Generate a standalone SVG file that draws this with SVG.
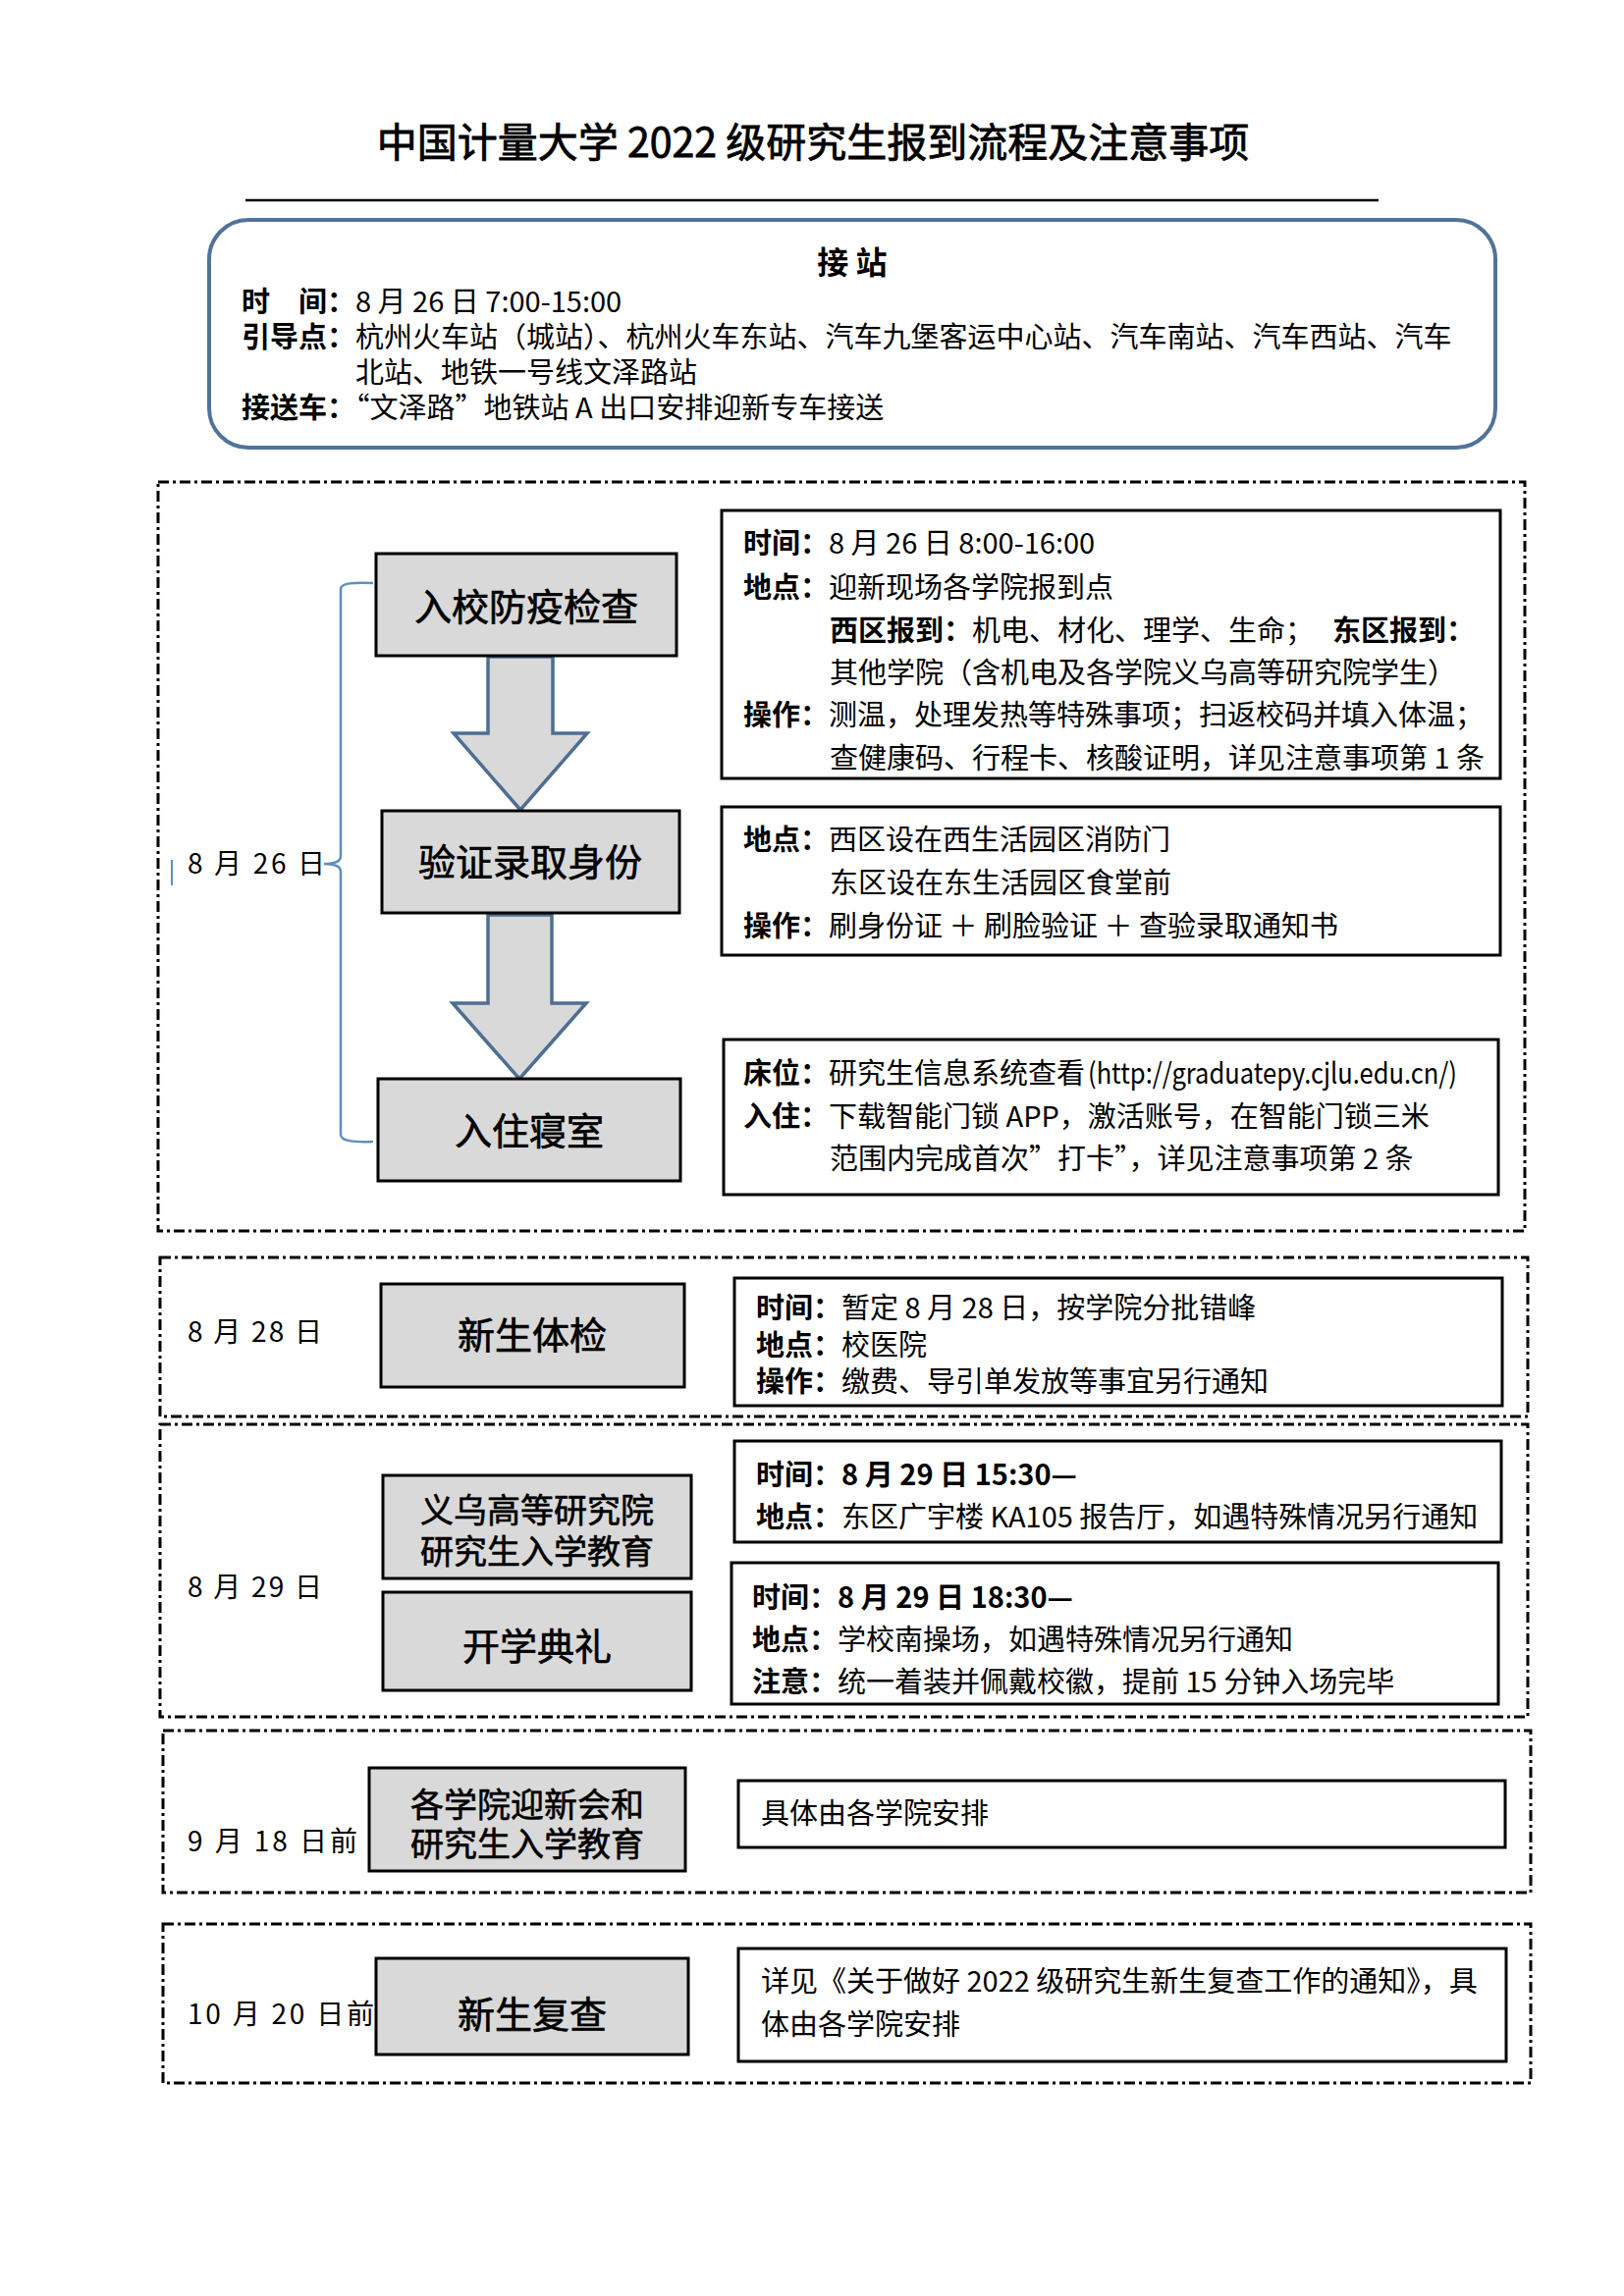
<svg xmlns="http://www.w3.org/2000/svg" width="1654" height="2339" viewBox="0 0 1654 2339">
<style>
text{font-family:"Noto Sans CJK SC","Noto Sans CJK TC",sans-serif;fill:#000}
.t{font-size:29px}
.b{font-weight:bold}
.node{fill:#D9D9D9;stroke:#000;stroke-width:3}
.nt{font-size:38px;text-anchor:middle;stroke:#000;stroke-width:0.7}
.nt2{font-size:34px;text-anchor:middle;stroke:#000;stroke-width:0.6}
.info{fill:#fff;stroke:#000;stroke-width:3}
.dash{fill:none;stroke:#000;stroke-width:3;stroke-dasharray:11 4 3 4}
.date{font-size:28px}
.arrow{fill:#D9D9D9;stroke:#4E6E92;stroke-width:3.5;stroke-linejoin:miter}
.brace{fill:none;stroke:#5E8FC0;stroke-width:2.5}
</style>
<rect width="1654" height="2339" fill="#fff"/>

<g id="title">
<text x="828" y="160" font-size="41" text-anchor="middle" stroke="#000" stroke-width="0.8">中国计量大学 2022 级研究生报到流程及注意事项</text>
<line x1="250" y1="204" x2="1404" y2="204" stroke="#000" stroke-width="2.5"/>
</g>

<g id="pickup">
<rect x="213" y="224" width="1310" height="232" rx="40" ry="40" fill="#fff" stroke="#50739B" stroke-width="4"/>
<text x="868" y="279" font-size="32" font-weight="bold" text-anchor="middle">接 站</text>
<text x="246" y="318" class="t"><tspan class="b">时　间：</tspan>8 月 26 日 7:00-15:00</text>
<text x="246" y="354" class="t"><tspan class="b">引导点：</tspan>杭州火车站（城站）、杭州火车东站、汽车九堡客运中心站、汽车南站、汽车西站、汽车</text>
<text x="362" y="390" class="t">北站、地铁一号线文泽路站</text>
<text x="246" y="426" class="t"><tspan class="b">接送车：</tspan>“文泽路”地铁站 A 出口安排迎新专车接送</text>
</g>

<g id="group-0826">
<rect class="dash" x="161" y="491" width="1392" height="763"/>
<text class="date" x="191" y="890" textLength="140">8 月 26 日</text>
<line x1="175" y1="876" x2="175" y2="902" stroke="#5E8FC0" stroke-width="2"/>
</g>

<g id="brace">
<path class="brace" d="M380,594 C360,593 347,594 347,600 L347,872 Q347,880 330,880 Q347,880 347,888 L347,1156 C347,1162 360,1164 380,1163"/>
</g>

<g id="connectors">
<polygon class="arrow" points="497,669 563,669 563,747 598,747 530,825 462,747 497,747"/>
<polygon class="arrow" points="497,932 562,932 562,1022 597,1022 529,1099 461,1022 497,1022"/>
</g>

<g id="node-check">
<rect class="node" x="383" y="564" width="306" height="104"/>
<text class="nt" x="536" y="632">入校防疫检查</text>
</g>
<g id="node-verify">
<rect class="node" x="389" y="826" width="303" height="104"/>
<text class="nt" x="540" y="892">验证录取身份</text>
</g>
<g id="node-dorm">
<rect class="node" x="385" y="1099" width="308" height="104"/>
<text class="nt" x="539" y="1166">入住寝室</text>
</g>

<g id="info-check">
<rect class="info" x="735" y="520" width="793" height="273"/>
<text x="757" y="564" class="t"><tspan class="b">时间：</tspan>8 月 26 日 8:00-16:00</text>
<text x="757" y="609" class="t"><tspan class="b">地点：</tspan>迎新现场各学院报到点</text>
<text x="845" y="653" class="t"><tspan class="b">西区报到：</tspan>机电、材化、理学、生命；</text>
<text x="1357" y="653" class="t b">东区报到：</text>
<text x="845" y="696" class="t">其他学院（含机电及各学院义乌高等研究院学生）</text>
<text x="757" y="739" class="t"><tspan class="b">操作：</tspan>测温，处理发热等特殊事项；扫返校码并填入体温；</text>
<text x="845" y="783" class="t">查健康码、行程卡、核酸证明，详见注意事项第 1 条</text>
</g>

<g id="info-verify">
<rect class="info" x="735" y="822" width="793" height="151"/>
<text x="757" y="866" class="t"><tspan class="b">地点：</tspan>西区设在西生活园区消防门</text>
<text x="845" y="910" class="t">东区设在东生活园区食堂前</text>
<text x="757" y="954" class="t"><tspan class="b">操作：</tspan>刷身份证 ＋ 刷脸验证 ＋ 查验录取通知书</text>
</g>

<g id="info-dorm">
<rect class="info" x="737" y="1059" width="789" height="158"/>
<text x="757" y="1104" class="t"><tspan class="b">床位：</tspan>研究生信息系统查看</text>
<text x="1108" y="1104" class="t" textLength="376" lengthAdjust="spacingAndGlyphs">(http://graduatepy.cjlu.edu.cn/)</text>
<text x="757" y="1148" class="t"><tspan class="b">入住：</tspan>下载智能门锁 APP，激活账号，在智能门锁三米</text>
<text x="845" y="1191" class="t">范围内完成首次”打卡”，详见注意事项第 2 条</text>
</g>

<g id="group-0828">
<rect class="dash" x="163" y="1281" width="1393" height="162"/>
<text class="date" x="191" y="1367" textLength="137">8 月 28 日</text>
</g>
<g id="node-exam">
<rect class="node" x="388" y="1308" width="309" height="105"/>
<text class="nt" x="542" y="1374">新生体检</text>
</g>
<g id="info-exam">
<rect class="info" x="748" y="1302" width="782" height="130"/>
<text x="770" y="1343" class="t"><tspan class="b">时间：</tspan>暂定 8 月 28 日，按学院分批错峰</text>
<text x="770" y="1381" class="t"><tspan class="b">地点：</tspan>校医院</text>
<text x="770" y="1418" class="t"><tspan class="b">操作：</tspan>缴费、导引单发放等事宜另行通知</text>
</g>

<g id="group-0829">
<rect class="dash" x="163" y="1451" width="1393" height="298"/>
<text class="date" x="191" y="1627" textLength="137">8 月 29 日</text>
</g>
<g id="node-yiwu">
<rect class="node" x="390" y="1503" width="314" height="105"/>
<text class="nt2" x="547" y="1551">义乌高等研究院</text>
<text class="nt2" x="547" y="1593">研究生入学教育</text>
</g>
<g id="node-ceremony">
<rect class="node" x="390" y="1622" width="314" height="100"/>
<text class="nt" x="547" y="1691">开学典礼</text>
</g>
<g id="info-yiwu">
<rect class="info" x="748" y="1468" width="781" height="103"/>
<text x="770" y="1513" class="t"><tspan class="b">时间：8 月 29 日 15:30—</tspan></text>
<text x="770" y="1556" class="t"><tspan class="b">地点：</tspan>东区广宇楼 KA105 报告厅，如遇特殊情况另行通知</text>
</g>
<g id="info-ceremony">
<rect class="info" x="745" y="1592" width="781" height="144"/>
<text x="766" y="1638" class="t"><tspan class="b">时间：8 月 29 日 18:30—</tspan></text>
<text x="766" y="1681" class="t"><tspan class="b">地点：</tspan>学校南操场，如遇特殊情况另行通知</text>
<text x="766" y="1724" class="t"><tspan class="b">注意：</tspan>统一着装并佩戴校徽，提前 15 分钟入场完毕</text>
</g>

<g id="group-0918">
<rect class="dash" x="166" y="1763" width="1393" height="165"/>
<text class="date" x="191" y="1886" textLength="173">9 月 18 日前</text>
</g>
<g id="node-college">
<rect class="node" x="376" y="1801" width="322" height="105"/>
<text class="nt2" x="537" y="1851">各学院迎新会和</text>
<text class="nt2" x="537" y="1891">研究生入学教育</text>
</g>
<g id="info-college">
<rect class="info" x="752" y="1814" width="781" height="68"/>
<text x="775" y="1858" class="t">具体由各学院安排</text>
</g>

<g id="group-1020">
<rect class="dash" x="166" y="1960" width="1393" height="162"/>
<text class="date" x="191" y="2062" textLength="190">10 月 20 日前</text>
</g>
<g id="node-recheck">
<rect class="node" x="383" y="1995" width="318" height="98"/>
<text class="nt" x="542" y="2066">新生复查</text>
</g>
<g id="info-recheck">
<rect class="info" x="752" y="1985" width="782" height="115"/>
<text x="775" y="2029" class="t">详见《关于做好 2022 级研究生新生复查工作的通知》，具</text>
<text x="775" y="2073" class="t">体由各学院安排</text>
</g>
</svg>
